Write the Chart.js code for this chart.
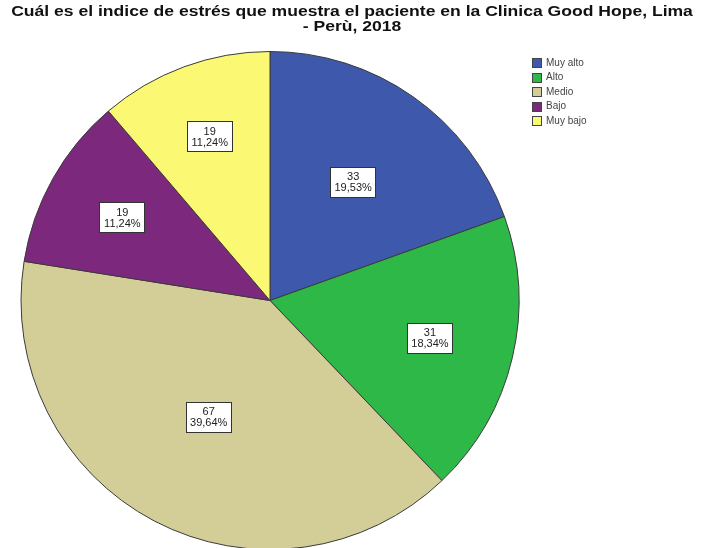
<!DOCTYPE html>
<html>
<head>
<meta charset="utf-8">
<script src="https://cdn.jsdelivr.net/npm/chart.js@4"></script>
<style>
    html, body { margin: 0; padding: 0; background: #fff; overflow: hidden; }
    #wrap { position: relative; width: 704px; height: 548px; overflow: hidden; }
    #title {
        position: absolute; left: 0; top: 4px; width: 704px;
        text-align: center; font: bold 15px "Liberation Sans", Arial, sans-serif;
        line-height: 14.5px; color: #111;
        transform: scaleX(1.17); transform-origin: 352px 0;
    }
    #pie { position: absolute; left: 0; top: 0; }
</style>
</head>
<body>
<div id="wrap">
    <canvas id="pie" width="704" height="550"></canvas>
    <div id="title">Cuál es el indice de estrés que muestra el paciente en la Clinica Good Hope, Lima<br>- Perù, 2018</div>
</div>
<script>
"use strict";
const labels = ["Muy alto", "Alto", "Medio", "Bajo", "Muy bajo"];
const counts = [33, 31, 67, 19, 19];
const colors = ["#3e58ac", "#2eb848", "#d3ce97", "#7c287d", "#fbf873"];
// how far out (share of radius) each slice's label box sits
const labelPos = [0.58, 0.66, 0.53, 0.68, 0.7];

const total = counts.reduce((a, b) => a + b, 0);

const sliceLabels = {
    id: "sliceLabels",
    afterDatasetsDraw(chart) {
        const ctx = chart.ctx;
        const arcs = chart.getDatasetMeta(0).data;
        ctx.save();
        ctx.font = "11px 'Liberation Sans', Arial, sans-serif";
        ctx.textAlign = "center";
        ctx.textBaseline = "middle";
        arcs.forEach((arc, i) => {
            const mid = (arc.startAngle + arc.endAngle) / 2;
            const r = arc.outerRadius * labelPos[i];
            const x = arc.x + Math.cos(mid) * r;
            const y = arc.y + Math.sin(mid) * r;
            const v = counts[i];
            const pct = (v / total * 100).toFixed(2).replace(".", ",") + "%";
            const w = 46, h = 31;
            ctx.fillStyle = "#fff";
            ctx.fillRect(Math.round(x - w / 2), Math.round(y - h / 2), w, h);
            ctx.strokeStyle = "#333";
            ctx.lineWidth = 1;
            ctx.strokeRect(Math.round(x - w / 2) + 0.5, Math.round(y - h / 2) + 0.5, w - 1, h - 1);
            ctx.fillStyle = "#222";
            ctx.fillText(String(v), x, y - 5);
            ctx.fillText(pct, x, y + 6);
        });
        ctx.restore();
    },
};

const sideLegend = {
    id: "sideLegend",
    afterDraw(chart) {
        const ctx = chart.ctx;
        const bg = chart.data.datasets[0].backgroundColor;
        ctx.save();
        ctx.font = "10px 'Liberation Sans', Arial, sans-serif";
        ctx.textBaseline = "middle";
        chart.data.labels.forEach((lab, i) => {
            const y = 63 + i * 14.5;
            ctx.fillStyle = bg[i];
            ctx.fillRect(532, Math.round(y - 5), 10, 10);
            ctx.strokeStyle = "#444";
            ctx.strokeRect(532.5, Math.round(y - 5) + 0.5, 9, 9);
            ctx.fillStyle = "#444";
            ctx.fillText(lab, 546, y);
        });
        ctx.restore();
    },
};

new Chart(document.getElementById("pie"), {
    type: "pie",
    data: {
        labels: labels,
        datasets: [
            {
                data: counts,
                backgroundColor: colors,
                borderColor: "#3a3a3a",
                borderWidth: 1,
            },
        ],
    },
    options: {
        responsive: false,
        animation: false,
        events: [],
        layout: {
            padding: { left: 20, right: 184, top: 51, bottom: 0 },
        },
        plugins: {
            legend: { display: false },
            title: { display: false },
            tooltip: { enabled: false },
        },
    },
    plugins: [sliceLabels, sideLegend],
});
</script>
</body>
</html>
